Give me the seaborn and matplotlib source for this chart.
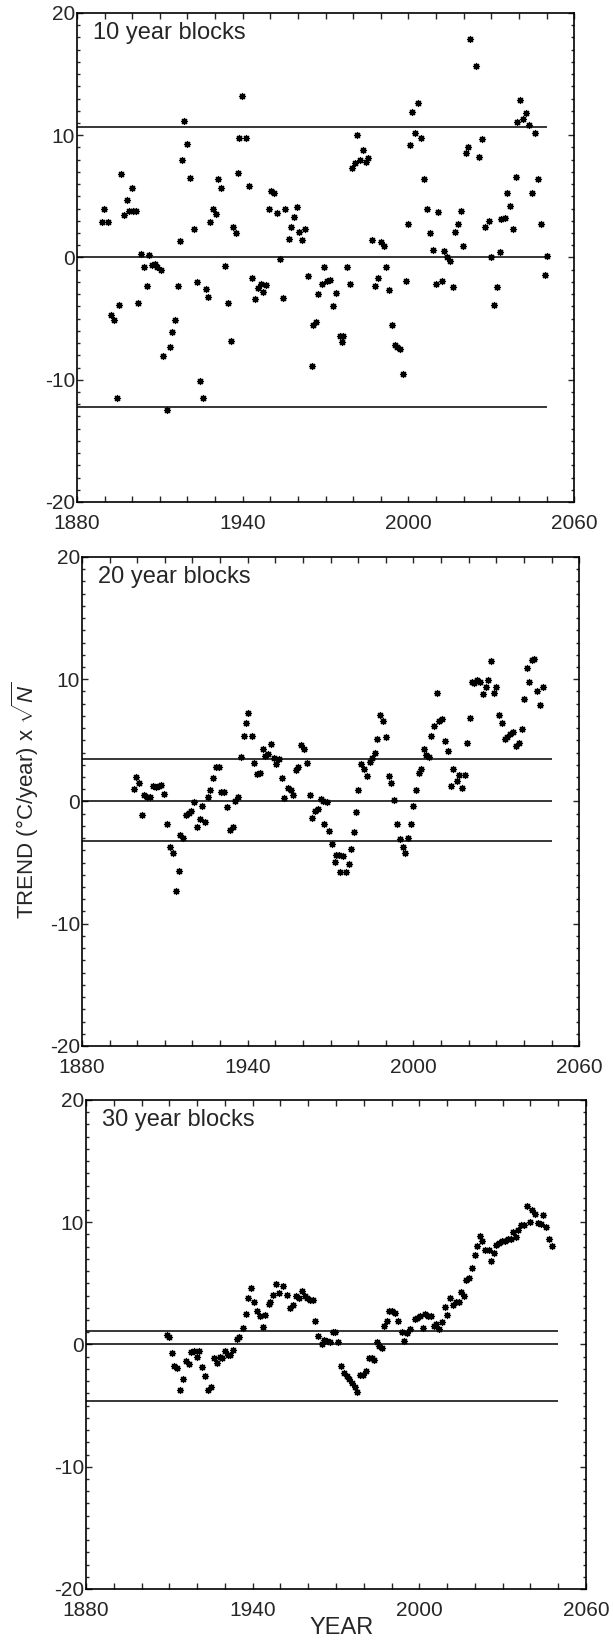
import matplotlib
matplotlib.use("Agg")
import matplotlib.pyplot as plt
from matplotlib.ticker import MultipleLocator
import pandas as pd
import seaborn as sns

##### trend x sqrt(N) for 10, 20 and 30 year blocks #####

years_10 = [1888.9, 1889.8, 1891.1, 1892.2, 1893.4, 1894.4, 1895.2, 1895.8, 1897.0, 1898.0,
            1898.9, 1900.0, 1900.1, 1901.2, 1902.2, 1903.2, 1904.3, 1905.4, 1906.1, 1907.0,
            1908.2, 1909.0, 1910.4, 1911.3, 1912.7, 1913.5, 1914.5, 1915.5, 1916.5, 1917.3,
            1918.0, 1918.9, 1920.0, 1920.9, 1922.4, 1923.5, 1924.6, 1925.8, 1926.6, 1927.5,
            1928.2, 1929.3, 1930.4, 1931.2, 1932.2, 1933.6, 1934.6, 1935.6, 1936.4, 1937.5,
            1938.2, 1938.7, 1939.9, 1941.2, 1942.2, 1943.5, 1944.6, 1945.7, 1946.7, 1947.5,
            1948.5, 1949.4, 1950.4, 1951.4, 1952.3, 1953.5, 1954.5, 1955.4, 1956.7, 1957.5,
            1958.5, 1959.5, 1960.4, 1961.6, 1962.6, 1963.8, 1965.0, 1965.6, 1966.6, 1967.4,
            1968.8, 1969.6, 1970.7, 1971.7, 1972.6, 1973.7, 1975.3, 1975.8, 1976.3, 1977.7,
            1978.7, 1979.4, 1980.5, 1981.3, 1982.5, 1983.4, 1984.5, 1985.5, 1986.7, 1988.0,
            1988.9, 1990.0, 1991.0, 1992.0, 1992.9, 1994.0, 1995.0, 1996.0, 1997.0, 1998.2,
            1999.0, 1999.8, 2000.6, 2001.4, 2002.5, 2003.3, 2004.5, 2005.7, 2006.8, 2007.9,
            2009.0, 2010.1, 2010.8, 2012.0, 2012.8, 2013.9, 2015.0, 2016.1, 2016.9, 2018.0,
            2019.0, 2019.9, 2020.7, 2021.7, 2022.4, 2024.4, 2025.6, 2026.6, 2027.9, 2029.0,
            2030.0, 2031.1, 2032.2, 2033.0, 2033.7, 2034.8, 2035.8, 2036.9, 2038.0, 2038.8,
            2039.4, 2040.4, 2041.5, 2042.5, 2043.6, 2044.9, 2045.7, 2046.8, 2048.0, 2049.3,
            2050.0]
trend_10 = [2.9, 4.0, 2.9, -4.7, -5.1, -11.5, -3.9, 6.8, 3.5, 4.7,
            3.8, 5.7, 3.8, 3.8, -3.7, 0.3, -0.8, -2.3, 0.2, -0.6,
            -0.5, -0.75, -1.0, -8.1, -12.5, -7.3, -6.1, -5.1, -2.3, 1.35,
            8.0, 11.2, 9.3, 6.5, 2.3, -2.0, -10.1, -11.5, -2.6, -3.2,
            2.9, 4.0, 3.55, 6.45, 5.7, -0.7, -3.7, -6.8, 2.5, 2.0,
            6.9, 9.8, 13.2, 9.8, 5.85, -1.7, -3.4, -2.5, -2.2, -2.8,
            -2.25, 4.0, 5.45, 5.3, 3.6, -0.1, -3.3, 4.0, 1.5, 2.5,
            3.3, 4.15, 2.1, 1.4, 2.3, -1.5, -8.9, -5.5, -5.3, -3.0,
            -2.2, -0.8, -1.9, -1.85, -4.0, -2.9, -6.45, -6.9, -6.45, -0.75,
            -2.2, 7.35, 7.75, 10.0, 8.0, 8.8, 7.8, 8.1, 1.4, -2.3,
            -1.7, 1.25, 0.9, -0.75, -2.7, -5.5, -7.15, -7.3, -7.5, -9.5,
            -1.9, 2.75, 9.2, 11.9, 10.2, 12.6, 9.8, 6.4, 4.0, 2.0,
            0.6, -2.2, 3.7, -1.9, 0.55, 0.05, -0.25, -2.4, 2.05, 2.75,
            3.8, 0.9, 8.55, 9.05, 17.9, 15.7, 8.2, 9.7, 2.5, 2.95,
            0.05, -3.9, -2.4, 0.45, 3.15, 3.2, 5.3, 4.25, 2.3, 6.6,
            11.1, 12.9, 11.3, 11.8, 10.8, 5.25, 10.2, 6.4, 2.7, -1.45,
            0.1]

years_20 = [1898.7, 1899.6, 1900.7, 1901.7, 1902.5, 1903.5, 1904.5, 1905.8, 1906.9, 1907.9,
            1908.7, 1909.6, 1910.8, 1911.8, 1912.9, 1914.0, 1915.0, 1915.6, 1916.5, 1917.6,
            1918.6, 1919.5, 1920.6, 1921.7, 1922.6, 1923.6, 1924.6, 1925.5, 1926.4, 1927.5,
            1928.5, 1929.5, 1930.5, 1931.5, 1932.5, 1933.5, 1934.5, 1935.5, 1936.4, 1937.5,
            1938.5, 1939.2, 1940.1, 1941.4, 1942.4, 1943.3, 1944.4, 1945.4, 1946.3, 1947.4,
            1948.3, 1949.4, 1950.4, 1951.3, 1952.4, 1953.3, 1954.4, 1955.5, 1956.4, 1957.4,
            1958.3, 1959.3, 1960.4, 1961.3, 1962.4, 1963.4, 1964.4, 1965.4, 1966.4, 1967.4,
            1967.6, 1968.6, 1969.5, 1970.5, 1971.5, 1971.9, 1973.1, 1973.3, 1974.4, 1975.4,
            1976.5, 1977.5, 1978.3, 1979.3, 1980.1, 1981.1, 1982.0, 1983.1, 1984.3, 1985.0,
            1986.0, 1986.9, 1987.9, 1989.0, 1990.0, 1991.0, 1992.0, 1993.1, 1994.2, 1995.1,
            1996.2, 1997.1, 1998.1, 1999.0, 1999.9, 2001.0, 2001.9, 2002.9, 2003.7, 2004.6,
            2005.5, 2006.5, 2007.5, 2008.5, 2009.4, 2010.4, 2011.4, 2012.5, 2013.6, 2014.4,
            2015.6, 2016.4, 2017.6, 2018.6, 2019.4, 2020.4, 2021.2, 2022.1, 2023.0, 2024.2,
            2025.1, 2026.1, 2027.1, 2028.1, 2029.0, 2030.0, 2031.1, 2032.0, 2033.2, 2034.0,
            2035.0, 2035.9, 2037.1, 2038.1, 2039.2, 2040.0, 2041.0, 2041.9, 2043.0, 2043.8,
            2044.9, 2046.0, 2046.9]
trend_20 = [1.0, 2.0, 1.5, -1.1, 0.55, 0.4, 0.35, 1.3, 1.2, 1.3,
            1.35, 0.6, -1.85, -3.75, -4.2, -7.3, -5.65, -2.75, -2.95, -1.1,
            -0.95, -0.75, -0.05, -2.05, -1.4, -0.35, -1.65, 0.4, 0.95, 1.9,
            2.8, 2.8, 0.75, 0.75, -0.45, -2.3, -2.05, 0.05, 0.35, 3.65,
            5.35, 6.4, 7.25, 5.35, 3.15, 2.25, 2.35, 4.3, 3.75, 3.9,
            4.7, 3.55, 3.05, 3.45, 1.9, 0.3, 1.1, 0.95, 0.55, 2.6,
            2.8, 4.65, 4.3, 3.15, 0.55, -1.35, -0.75, -0.65, 0.2, 0.05,
            -1.85, -0.05, -2.45, -3.45, -4.95, -4.4, -4.4, -5.75, -4.45, -5.75,
            -5.1, -3.9, -2.5, -0.85, 0.95, 3.05, 2.65, 2.1, 3.25, 3.55,
            4.0, 5.1, 7.05, 6.55, 5.25, 2.05, 1.55, 0.1, -1.85, -3.1,
            -3.7, -4.25, -3.0, -1.85, -0.35, 0.9, 2.3, 2.65, 4.3, 3.8,
            3.6, 5.35, 6.15, 8.85, 6.55, 6.75, 4.95, 4.15, 1.25, 2.65,
            1.7, 2.15, 1.1, 2.15, 4.8, 6.8, 9.8, 9.7, 9.95, 9.8,
            8.75, 9.35, 9.95, 11.5, 8.9, 9.35, 7.1, 6.4, 5.1, 5.3,
            5.55, 5.7, 4.55, 4.8, 5.9, 8.4, 10.9, 9.8, 11.55, 11.65,
            9.0, 7.9, 9.35]

years_30 = [1909.0, 1909.9, 1910.8, 1911.8, 1912.6, 1913.8, 1914.8, 1915.9, 1916.9, 1917.9,
            1918.8, 1919.8, 1920.8, 1921.8, 1922.9, 1924.0, 1925.0, 1926.0, 1927.0, 1928.1,
            1929.0, 1930.1, 1931.1, 1932.0, 1932.9, 1934.2, 1935.1, 1936.6, 1937.6, 1938.4,
            1939.4, 1940.4, 1941.4, 1942.6, 1943.6, 1944.5, 1945.7, 1946.4, 1947.4, 1948.3,
            1949.4, 1951.0, 1952.4, 1953.4, 1954.6, 1955.5, 1956.6, 1957.6, 1958.7, 1959.6,
            1960.6, 1961.8, 1962.6, 1963.6, 1964.8, 1965.6, 1966.6, 1967.8, 1969.0, 1969.8,
            1970.8, 1971.7, 1972.8, 1973.8, 1974.7, 1975.9, 1976.8, 1977.7, 1978.8, 1979.8,
            1980.7, 1981.8, 1982.8, 1983.6, 1984.6, 1985.5, 1986.6, 1987.3, 1988.4, 1989.1,
            1990.3, 1991.4, 1992.3, 1993.6, 1994.5, 1995.6, 1996.5, 1998.3, 1999.2, 2000.1,
            2001.3, 2001.9, 2003.1, 2004.1, 2005.2, 2006.1, 2007.1, 2008.2, 2009.1, 2010.1,
            2011.2, 2012.1, 2013.2, 2014.2, 2015.1, 2016.1, 2016.9, 2017.9, 2019.0, 2019.9,
            2020.8, 2022.0, 2022.7, 2023.8, 2024.9, 2025.9, 2026.8, 2027.7, 2028.7, 2029.7,
            2030.8, 2031.9, 2032.9, 2033.7, 2034.7, 2035.5, 2036.7, 2037.7, 2038.6, 2039.7,
            2040.7, 2041.6, 2042.6, 2043.7, 2044.6, 2045.7, 2046.7, 2047.7]
trend_30 = [0.8, 0.65, -0.7, -1.75, -1.95, -3.7, -2.85, -1.35, -1.6, -0.65,
            -0.55, -1.0, -0.55, -1.85, -2.6, -3.7, -3.45, -1.1, -1.55, -1.05,
            -1.1, -0.5, -0.85, -0.9, -0.45, 0.45, 0.65, 1.35, 2.5, 3.8,
            4.6, 3.5, 2.75, 2.3, 1.4, 2.45, 3.3, 3.45, 4.05, 4.95,
            4.2, 4.75, 4.05, 3.0, 3.25, 3.95, 3.8, 4.35, 3.95, 3.8,
            3.6, 3.6, 1.95, 0.7, 0.0, 0.4, 0.3, 0.2, 1.0, 1.0,
            0.2, -1.8, -2.35, -2.6, -2.8, -3.15, -3.45, -3.85, -2.5, -2.5,
            -2.15, -1.1, -1.1, -1.25, 0.2, -0.1, -0.3, 1.55, 1.9, 2.7,
            2.75, 2.55, 1.95, 1.0, 0.3, 0.9, 1.3, 2.1, 2.2, 2.3,
            1.35, 2.5, 2.35, 2.3, 1.55, 1.65, 1.3, 1.85, 3.1, 2.45,
            3.8, 3.25, 3.5, 3.45, 4.3, 3.95, 5.3, 5.45, 6.25, 7.3,
            8.05, 8.85, 8.5, 7.75, 7.75, 6.8, 7.45, 8.1, 8.3, 8.45,
            8.5, 8.65, 8.65, 9.2, 8.75, 9.4, 9.75, 9.8, 11.3, 10.0,
            11.0, 10.7, 9.9, 9.85, 10.55, 9.6, 8.6, 8.05]

block_labels = ['10 year blocks', '20 year blocks', '30 year blocks']
limits_10 = [10.7, -12.2]
limits_20 = [3.45, -3.25]
limits_30 = [1.1, -4.6]

sns.set_style('ticks')
plt.rcParams['font.family'] = ['Liberation Sans', 'DejaVu Sans']
plt.rcParams['mathtext.fontset'] = 'custom'
plt.rcParams['mathtext.rm'] = 'Liberation Sans'
plt.rcParams['mathtext.it'] = 'Liberation Sans:italic'
plt.rcParams['axes.unicode_minus'] = False

fig = plt.figure(figsize=(6.13, 16.41), dpi=100)
positions = [[0.1256, 0.6941, 0.811, 0.298],
             [0.1338, 0.3626, 0.811, 0.298],
             [0.1403, 0.0317, 0.8157, 0.298]]
panels = [(years_10, trend_10, limits_10), (years_20, trend_20, limits_20), (years_30, trend_30, limits_30)]

for pos, (yrs, vals, lims), label in zip(positions, panels, block_labels):
    ax = fig.add_axes(pos)
    df = pd.DataFrame({'year': yrs, 'trend': vals})
    sns.scatterplot(data=df, x='year', y='trend', ax=ax, marker=(8, 2, 0),
                    color='black', s=18, linewidth=1.0)
    ax.hlines([0] + lims, 1880, 2050, color='black', lw=1.1)
    ax.set_xlim(1880, 2060)
    ax.set_ylim(-20, 20)
    ax.set_xticks([1880, 1940, 2000, 2060])
    ax.set_yticks([-20, -10, 0, 10, 20])
    ax.xaxis.set_minor_locator(MultipleLocator(10))
    ax.yaxis.set_minor_locator(MultipleLocator(1))
    ax.tick_params(which='both', direction='in', top=True, right=True, width=1, labelsize=15)
    ax.tick_params(axis='x', which='both', length=4.5, pad=8.5)
    ax.tick_params(axis='y', which='major', length=4.5, pad=1.5)
    ax.tick_params(axis='y', which='minor', length=2.5)
    for sp in ax.spines.values():
        sp.set_linewidth(1.2)
        sp.set_color('black')
    ax.set_xlabel('')
    ax.set_ylabel('')
    ax.text(0.032, 0.959, label, transform=ax.transAxes, fontsize=17, va='center', ha='left')

fig.text(25 / 613, 1 - 800 / 1641, r'TREND (°C/year) x $\sqrt{N}$', rotation=90,
         fontsize=16, ha='center', va='center')
fig.text(342 / 613, 1 - 1628 / 1641, 'YEAR', fontsize=17, ha='center', va='center')

plt.savefig('out.png', dpi=100)
